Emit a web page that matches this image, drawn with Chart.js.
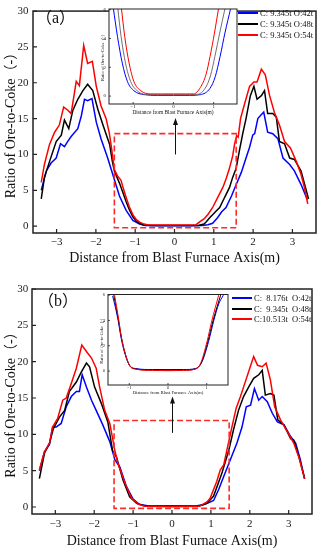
<!DOCTYPE html>
<html lang="en">
<head>
  <meta charset="UTF-8">
  <title>Ratio of Ore-to-Coke</title>
  <script src="https://cdn.jsdelivr.net/npm/chart.js"></script>
  <style>
    body { margin: 0; background: #fff; }
    #page { position: relative; width: 321px; height: 550px; overflow: hidden; font-family: 'Liberation Serif', serif; color: #111; }
    #page canvas { position: absolute; }
    .tag { position: absolute; font-size: 16px; line-height: 20px; font-family: 'Liberation Serif', 'Noto Sans CJK SC', serif; }
    .legend { position: absolute; width: 90px; font-size: 8.5px; font-family: 'Liberation Serif', serif; }
    .legend div { display: flex; align-items: center; height: 11px; white-space: pre; }
    .legend i { flex: none; display: inline-block; width: 20px; height: 2px; margin-right: 2px; }
  </style>
</head>
<body>
<div id="page">
  <canvas id="mainA" width="321" height="275" style="left:0;top:0"></canvas>
  <canvas id="mainB" width="321" height="275" style="left:0;top:275px"></canvas>
  <canvas id="insetA" width="147" height="117" style="left:94px;top:3px"></canvas>
  <canvas id="insetB" width="140" height="112" style="left:94px;top:288px"></canvas>

  <div class="tag" style="left:36px;top:8px">（a）</div>
  <div class="tag" style="left:38px;top:291px">（b）</div>

  <div class="legend" style="left:238px;top:7px">
    <div><i style="background:#0000ff"></i>C: 9.345t O:42t</div>
    <div><i style="background:#000"></i>C: 9.345t O:48t</div>
    <div><i style="background:#ff0000"></i>C: 9.345t O:54t</div>
  </div>
  <div class="legend" style="left:232px;top:293px">
    <div style="height:10.4px"><i style="background:#0000ff"></i>C:  8.176t  O:42t</div>
    <div style="height:10.4px"><i style="background:#000"></i>C:  9.345t  O:48t</div>
    <div style="height:10.4px"><i style="background:#ff0000"></i>C:10.513t  O:54t</div>
  </div>
</div>

<script>
  // ---- tick values ----
  const mainXTicks = [-3, -2, -1, 0, 1, 2, 3];
  const mainYTicks = [0, 5, 10, 15, 20, 25, 30];
  const insetXTicks = [-1, 0, 1];
  const insetYTicks = [0, 2, 4, 6];

  // ---- panel (a) ----
  const aBlueX = [-3.39,-3.26,-3.14,-3.01,-2.9,-2.8,-2.72,-2.63,-2.46,-2.37,-2.29,-2.21,-2.1,-1.99,-1.87,-1.7,-1.57,-1.4,-1.23,-1.06,-0.89,-0.75,-0.4,0,0.4,0.7,0.85,0.97,1.1,1.2,1.31,1.45,1.57,1.7,1.82,1.91,1.99,2.04,2.12,2.2,2.27,2.37,2.5,2.63,2.76,2.93,3.05,3.22,3.38];
  const aBlueY = [5.0,7.7,8.8,9.5,11.5,11.1,11.8,12.5,13.6,15.4,17.7,17.5,17.8,14.5,12.2,9.5,7.2,4.2,2.2,0.8,0.3,0.1,0.05,0.05,0.05,0.1,0.2,0.4,1.2,2.0,2.6,4.2,5.8,7.5,9.5,11.0,12.7,12.9,15.0,15.5,15.9,13.1,12.9,12.2,9.5,8.6,7.7,5.8,3.7];
  const aBlackX = [-3.39,-3.31,-3.18,-3.01,-2.88,-2.8,-2.69,-2.59,-2.46,-2.33,-2.21,-2.08,-1.95,-1.82,-1.65,-1.58,-1.53,-1.4,-1.32,-1.23,-1.15,-1.06,-0.97,-0.89,-0.8,-0.6,0,0.6,0.75,0.81,0.9,0.97,1.06,1.15,1.23,1.32,1.4,1.48,1.57,1.65,1.74,1.82,1.93,2.02,2.1,2.21,2.29,2.37,2.5,2.59,2.67,2.8,2.93,3.05,3.22,3.41];
  const aBlackY = [3.8,6.8,9.0,11.8,12.7,14.8,13.6,16.1,17.7,18.9,19.8,18.9,16.3,14.1,11.4,9.0,7.7,6.0,4.8,3.4,2.3,1.3,0.7,0.4,0.2,0.1,0.1,0.1,0.3,0.6,1.2,1.6,2.1,2.6,3.5,4.5,5.4,6.8,8.1,10.5,13.0,15.0,18.2,19.5,17.7,18.2,18.9,15.7,15.7,15.2,11.8,11.5,9.5,9.3,7.7,3.8];
  const aRedX = [-3.39,-3.31,-3.18,-3.05,-2.93,-2.82,-2.72,-2.63,-2.5,-2.42,-2.31,-2.21,-2.09,-1.99,-1.87,-1.74,-1.66,-1.6,-1.53,-1.45,-1.36,-1.3,-1.23,-1.15,-1.06,-0.97,-0.89,-0.8,-0.7,-0.4,0,0.4,0.55,0.64,0.75,0.86,0.97,1.1,1.23,1.32,1.4,1.48,1.53,1.58,1.62,1.68,1.78,1.91,2.02,2.1,2.21,2.31,2.42,2.54,2.67,2.8,2.95,3.1,3.22,3.3,3.39];
  const aRedY = [6.1,8.6,11.4,13.1,14.1,16.6,16.2,15.7,20.2,19.6,25.2,22.7,23.0,19.5,16.8,15.0,13.0,10.8,7.9,7.0,6.4,5.2,4.0,2.7,1.6,0.9,0.55,0.35,0.2,0.15,0.15,0.15,0.2,0.6,1.0,1.7,2.6,4.0,5.4,6.7,8.1,9.8,11.5,12.6,12.4,15.0,17.0,19.5,20.1,20.1,21.9,21.1,18.2,15.9,14.1,11.8,10.9,9.0,7.2,5.5,3.1];

  // inset (a)
  const aInBlueX = [-1.49,-1.39,-1.27,-1.14,-0.98,-0.73,-0.4,0,0.4,0.67,0.91,1.04,1.16,1.28,1.42];
  const aInBlueY = [6.06,4.15,2.29,1.0,0.37,0.1,0.05,0.05,0.05,0.1,0.54,1.35,2.75,4.38,6.06];
  const aInBlackX = [-1.38,-1.3,-1.19,-1.06,-0.9,-0.7,-0.3,0,0.3,0.6,0.79,0.92,1.03,1.15,1.28];
  const aInBlackY = [6.06,4.15,2.29,1.0,0.37,0.12,0.1,0.1,0.1,0.12,0.55,1.4,2.75,4.38,6.06];
  const aInRedX = [-1.29,-1.21,-1.1,-0.98,-0.81,-0.57,-0.3,0,0.3,0.5,0.67,0.81,0.91,1.02,1.12];
  const aInRedY = [6.06,4.15,2.29,1.0,0.37,0.15,0.15,0.15,0.15,0.15,0.6,1.5,2.75,4.38,6.06];

  // ---- panel (b) ----
  const bBlueX = [-3.41,-3.28,-3.15,-3.07,-2.98,-2.85,-2.72,-2.59,-2.46,-2.38,-2.31,-2.2,-2.07,-1.95,-1.78,-1.6,-1.47,-1.34,-1.17,-1.0,-0.85,-0.6,0,0.6,0.8,0.95,1.07,1.2,1.33,1.5,1.67,1.8,1.91,2.02,2.12,2.23,2.32,2.45,2.58,2.71,2.88,3.05,3.18,3.3,3.41];
  const bBlueY = [5.0,7.6,8.6,11.0,11.0,11.5,13.8,15.2,15.9,15.9,18.2,16.5,14.7,13.3,11.3,9.0,6.5,5.5,2.8,1.1,0.4,0.15,0.15,0.15,0.3,0.6,0.9,2.4,4.2,6.5,8.8,11.0,13.8,14.0,16.3,14.7,15.2,14.5,12.9,11.7,11.3,9.7,8.8,6.5,3.9];
  const bBlackX = [-3.41,-3.28,-3.15,-3.05,-2.89,-2.76,-2.64,-2.46,-2.33,-2.2,-2.12,-1.99,-1.82,-1.65,-1.53,-1.43,-1.26,-1.09,-0.91,-0.7,0,0.7,0.9,1.07,1.28,1.46,1.58,1.71,1.84,1.97,2.1,2.23,2.32,2.4,2.53,2.62,2.72,2.88,3.05,3.13,3.27,3.41];
  const bBlackY = [3.9,7.4,8.8,10.8,12.4,13.3,15.9,17.2,18.6,19.8,19.3,16.5,14.3,11.7,7.8,6.9,3.7,1.4,0.5,0.15,0.1,0.15,0.5,1.5,4.6,7.8,10.6,13.3,15.2,16.5,17.7,18.2,18.8,15.4,15.6,15.4,12.0,11.3,9.4,9.2,6.8,3.9];
  const bRedX = [-3.41,-3.28,-3.15,-3.07,-2.94,-2.81,-2.72,-2.59,-2.46,-2.32,-2.2,-2.07,-1.95,-1.86,-1.73,-1.6,-1.47,-1.39,-1.21,-1.04,-0.87,-0.7,0,0.7,0.9,0.98,1.15,1.24,1.33,1.41,1.54,1.65,1.76,1.84,1.97,2.1,2.2,2.32,2.42,2.53,2.64,2.79,2.96,3.13,3.26,3.41];
  const bRedY = [5.1,7.6,8.8,11.0,12.2,14.7,15.0,17.0,19.1,22.3,21.4,20.5,19.1,16.5,13.3,11.5,7.8,6.0,3.3,1.2,0.4,0.1,0.05,0.1,0.7,1.2,3.5,5.1,5.8,7.8,11.0,13.6,15.2,16.5,18.6,20.7,19.5,19.3,19.8,17.5,13.8,12.0,10.4,8.8,6.9,3.9];

  // inset (b)
  const bInBlueX = [-1.43,-1.3,-1.21,-1.13,-1.0,-0.83,-0.4,0,0.4,0.71,0.88,1.05,1.18,1.31,1.43];
  const bInBlueY = [5.94,4.2,2.6,1.55,0.48,0.2,0.12,0.12,0.12,0.2,0.75,2.35,3.95,5.3,6.0];
  const bInBlackX = [-1.4,-1.29,-1.2,-1.12,-1.0,-0.83,-0.4,0,0.4,0.7,0.86,1.03,1.16,1.27,1.36];
  const bInBlackY = [6.0,4.2,2.6,1.55,0.48,0.17,0.08,0.08,0.08,0.17,0.65,2.35,3.95,5.1,6.0];
  const bInRedX = [-1.38,-1.28,-1.2,-1.12,-1.0,-0.83,-0.4,0,0.4,0.7,0.84,1.01,1.13,1.22,1.31];
  const bInRedY = [6.0,4.2,2.6,1.55,0.48,0.15,0.05,0.03,0.05,0.15,0.6,2.35,3.95,5.0,6.0];

  const SERIF = "'Liberation Serif', 'Noto Sans CJK SC', serif";
  const yTitle = 'Ratio of Ore-to-Coke（-）';
  const xTitle = 'Distance from Blast Furnace Axis(m)';

  // minus sign like the original
  function fmt(v) {
    return v < 0 ? '\u2212' + Math.abs(v) : String(v);
  }

  function series(xs, ys, color, width, order, smooth) {
    return {
      data: xs.map((x, i) => ({ x: x, y: ys[i] })),
      borderColor: color,
      borderWidth: width,
      pointRadius: 0,
      fill: false,
      order: order,
      tension: smooth ? 0.4 : 0,
      cubicInterpolationMode: smooth ? 'monotone' : 'default'
    };
  }

  function axisX(min, max, ticks, o) {
    return {
      type: 'linear', min: min, max: max,
      afterBuildTicks: s => { s.ticks = ticks.map(v => ({ value: v })); },
      afterFit: s => { s.height = o.size; },
      grid: { display: false, drawTicks: false },
      border: { display: false },
      ticks: { padding: o.tickPad, color: '#222', autoSkip: false, maxRotation: 0,
               font: { family: SERIF, size: o.tickFs }, callback: fmt },
      title: { display: true, text: xTitle, color: '#111',
               font: { family: SERIF, size: o.titleFs }, padding: { top: 0, bottom: o.titlePad } }
    };
  }

  function axisY(min, max, ticks, o) {
    return {
      type: 'linear', min: min, max: max,
      afterBuildTicks: s => { s.ticks = ticks.map(v => ({ value: v })); },
      afterFit: s => { s.width = o.size; },
      grid: { display: false, drawTicks: false },
      border: { display: false },
      ticks: { padding: o.tickPad, color: '#222', autoSkip: false,
               font: { family: SERIF, size: o.tickFs }, callback: fmt },
      title: { display: true, text: yTitle, color: '#111',
               font: { family: SERIF, size: o.titleFs }, padding: { top: o.titlePad, bottom: 0 } }
    };
  }

  // frame, inward tick marks, dashed zoom box and arrow
  const deco = {
    id: 'deco',
    beforeDatasetsDraw(chart, args, opts) {
      const a = chart.chartArea;
      if (opts.fill) {
        chart.ctx.save();
        chart.ctx.fillStyle = '#fff';
        chart.ctx.fillRect(a.left, a.top, a.width, a.height);
        chart.ctx.restore();
      }
    },
    afterDatasetsDraw(chart, args, opts) {
      const { ctx, chartArea: a } = chart;
      const x = chart.scales.x, y = chart.scales.y;
      ctx.save();
      if (opts.box) {
        const b = opts.box;
        ctx.strokeStyle = '#ff2a2a';
        ctx.lineWidth = 1.6;
        ctx.setLineDash([6, 3]);
        const l = x.getPixelForValue(b.x0), r = x.getPixelForValue(b.x1);
        const t = y.getPixelForValue(b.y1), bt = y.getPixelForValue(b.y0);
        ctx.strokeRect(l, t, r - l, bt - t);
        ctx.setLineDash([]);
      }
      if (opts.arrow) {
        const ar = opts.arrow;
        const px = Math.round(x.getPixelForValue(ar.x)) + 0.5;
        const y0 = y.getPixelForValue(ar.from), y1 = y.getPixelForValue(ar.to);
        ctx.strokeStyle = '#111';
        ctx.lineWidth = 1;
        ctx.beginPath();
        ctx.moveTo(px, y0);
        ctx.lineTo(px, y1 + 6);
        ctx.stroke();
        ctx.fillStyle = '#111';
        ctx.beginPath();
        ctx.moveTo(px, y1);
        ctx.lineTo(px - 2.5, y1 + 7);
        ctx.lineTo(px + 2.5, y1 + 7);
        ctx.closePath();
        ctx.fill();
      }
      ctx.strokeStyle = '#222';
      ctx.lineWidth = opts.frame;
      ctx.strokeRect(a.left, a.top, a.width, a.height);
      ctx.lineWidth = opts.frame * 0.8;
      ctx.beginPath();
      x.ticks.forEach(tk => {
        const p = x.getPixelForValue(tk.value);
        ctx.moveTo(p, a.bottom);
        ctx.lineTo(p, a.bottom - opts.tick);
      });
      y.ticks.forEach(tk => {
        const p = y.getPixelForValue(tk.value);
        ctx.moveTo(a.left, p);
        ctx.lineTo(a.left + opts.tick, p);
      });
      ctx.stroke();
      ctx.restore();
    }
  };

  function makeChart(id, datasets, scales, padding, decoOpts) {
    return new Chart(document.getElementById(id), {
      type: 'line',
      data: { datasets: datasets },
      options: {
        responsive: false,
        animation: false,
        events: [],
        layout: { padding: padding },
        scales: scales,
        plugins: { legend: { display: false }, tooltip: { enabled: false }, deco: decoOpts }
      },
      plugins: [deco]
    });
  }

  // Panel (a)
  makeChart('mainA', [
      series(aRedX, aRedY, '#ff0000', 1.5, 1),
      series(aBlackX, aBlackY, '#000000', 1.5, 2),
      series(aBlueX, aBlueY, '#0000ff', 1.5, 3)
    ], {
      x: axisX(-3.6, 3.6, mainXTicks, { size: 42, tickPad: 3, tickFs: 11, titleFs: 14, titlePad: 8.6 }),
      y: axisY(-0.96, 30, mainYTicks, { size: 33, tickPad: 4.5, tickFs: 11, titleFs: 14, titlePad: 2.6 })
    },
    { top: 7, right: 5, bottom: 0, left: 0 },
    { frame: 1.5, tick: 4, box: { x0: -1.53, x1: 1.57, y0: -0.23, y1: 12.9 }, arrow: { x: 0, from: 10, to: 15.1 } }
  );

  makeChart('insetA', [
      series(aInRedX, aInRedY, '#ff0000', 1, 1, true),
      series(aInBlackX, aInBlackY, '#707070', 1, 2, true),
      series(aInBlueX, aInBlueY, '#0000ff', 1, 3, true)
    ], {
      x: axisX(-1.6, 1.58, insetXTicks, { size: 16, tickPad: 0, tickFs: 5, titleFs: 5.4, titlePad: 4 }),
      y: axisY(-0.55, 6.05, insetYTicks, { size: 15, tickPad: 3, tickFs: 5, titleFs: 4.5, titlePad: 6.3 })
    },
    { top: 6, right: 4, bottom: 0, left: 0 },
    { frame: 1, tick: 2, fill: true }
  );

  // Panel (b)
  makeChart('mainB', [
      series(bRedX, bRedY, '#ff0000', 1.5, 1),
      series(bBlackX, bBlackY, '#000000', 1.5, 2),
      series(bBlueX, bBlueY, '#0000ff', 1.5, 3)
    ], {
      x: axisX(-3.6, 3.6, mainXTicks, { size: 36, tickPad: 4, tickFs: 11, titleFs: 14, titlePad: 0 }),
      y: axisY(-0.96, 30, mainYTicks, { size: 32, tickPad: 3.7, tickFs: 11, titleFs: 14, titlePad: 2.6 })
    },
    { top: 14, right: 9, bottom: 0, left: 0 },
    { frame: 1.5, tick: 4, box: { x0: -1.49, x1: 1.47, y0: -0.18, y1: 11.9 }, arrow: { x: 0, from: 10.2, to: 15.2 } }
  );

  makeChart('insetB', [
      series(bInRedX, bInRedY, '#ff0000', 1, 1, true),
      series(bInBlackX, bInBlackY, '#000000', 1, 2, true),
      series(bInBlueX, bInBlueY, '#0000ff', 1, 3, true)
    ], {
      x: axisX(-1.55, 1.55, insetXTicks, { size: 15, tickPad: 0, tickFs: 4.5, titleFs: 4.7, titlePad: 4.7 }),
      y: axisY(-1.1, 6.05, insetYTicks, { size: 14, tickPad: 3, tickFs: 4.5, titleFs: 4.4, titlePad: 5.3 })
    },
    { top: 6.5, right: 6, bottom: 0, left: 0 },
    { frame: 1, tick: 2, fill: true }
  );
</script>
</body>
</html>
